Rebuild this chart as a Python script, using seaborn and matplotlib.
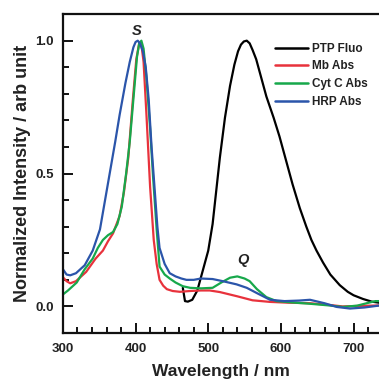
import numpy as np
import pandas as pd
import matplotlib
matplotlib.use("Agg")
import matplotlib.pyplot as plt
import seaborn as sns
from matplotlib.ticker import MultipleLocator

# ---- data ----
ptp_wl = [465, 468, 472, 478, 485, 493, 500, 506, 516, 523, 530, 536, 541, 545, 549, 553, 557, 561, 566, 573, 580, 590, 598, 607, 616, 626, 635, 642, 649, 658, 668, 681, 692, 700, 713, 725, 740]
ptp_y = [0.07, 0.02, 0.018, 0.025, 0.06, 0.14, 0.21, 0.31, 0.56, 0.71, 0.83, 0.91, 0.96, 0.985, 0.997, 1.0, 0.99, 0.965, 0.93, 0.86, 0.79, 0.71, 0.64, 0.55, 0.46, 0.37, 0.3, 0.25, 0.21, 0.165, 0.12, 0.08, 0.055, 0.042, 0.028, 0.018, 0.012]

mb_wl = [300, 305, 310, 318, 332, 345, 355, 362, 369, 378, 384, 390, 396, 401, 405, 408, 411, 415, 420, 425, 429, 433, 438, 443, 451, 461, 475, 490, 502, 516, 540, 561, 585, 610, 640, 665, 685, 710, 740]
mb_y = [0.11, 0.095, 0.087, 0.095, 0.13, 0.18, 0.21, 0.245, 0.275, 0.34, 0.43, 0.56, 0.77, 0.93, 0.99, 0.985, 0.92, 0.72, 0.45, 0.25, 0.16, 0.1, 0.078, 0.065, 0.058, 0.055, 0.058, 0.06, 0.06, 0.054, 0.038, 0.023, 0.017, 0.014, 0.012, 0.006, 0.0, 0.002, 0.004]

cyt_wl = [300, 307, 319, 330, 341, 348, 355, 362, 369, 375, 381, 387, 392, 397, 402, 405, 408, 411, 415, 420, 424, 429, 433, 440, 447, 455, 465, 475, 490, 506, 518, 530, 540, 550, 557, 567, 580, 594, 615, 640, 665, 685, 705, 718, 730, 740]
cyt_y = [0.045, 0.06, 0.09, 0.14, 0.18, 0.22, 0.25, 0.268, 0.28, 0.31, 0.375, 0.5, 0.62, 0.78, 0.94, 0.99, 1.0, 0.97, 0.86, 0.67, 0.49, 0.29, 0.15, 0.12, 0.105, 0.09, 0.076, 0.07, 0.068, 0.07, 0.09, 0.108, 0.113, 0.105, 0.095, 0.065, 0.035, 0.02, 0.015, 0.01, 0.004, -0.002, 0.003, 0.012, 0.02, 0.02]

hrp_wl = [300, 305, 310, 318, 330, 341, 351, 358, 365, 372, 378, 386, 392, 397, 400, 403, 406, 410, 414, 418, 422, 426, 430, 433, 440, 447, 455, 463, 470, 480, 490, 506, 520, 539, 553, 567, 585, 605, 625, 640, 660, 677, 695, 715, 740]
hrp_y = [0.14, 0.12, 0.117, 0.125, 0.155, 0.21, 0.29, 0.4, 0.51, 0.62, 0.72, 0.84, 0.92, 0.975, 0.995, 1.0, 0.99, 0.96, 0.9, 0.78, 0.6, 0.45, 0.3, 0.22, 0.16, 0.125, 0.113, 0.105, 0.1, 0.1, 0.105, 0.103, 0.095, 0.083, 0.07, 0.05, 0.025, 0.02, 0.022, 0.025, 0.012, -0.002, -0.008, -0.004, 0.005]

series = ["PTP Fluo", "Mb Abs", "Cyt C Abs", "HRP Abs"]
colors = ["#000000", "#e8323c", "#17a84b", "#2b55aa"]

frames = []
for name, wl, y in zip(series, [ptp_wl, mb_wl, cyt_wl, hrp_wl], [ptp_y, mb_y, cyt_y, hrp_y]):
    frames.append(pd.DataFrame({"wl": wl, "y": y, "series": name}))
df = pd.concat(frames, ignore_index=True)

sns.set_theme(style="ticks")
plt.rcParams['font.family'] = ['Liberation Sans', 'DejaVu Sans']
plt.rcParams['font.weight'] = 'bold'

fig = plt.figure(figsize=(3.79, 3.81), dpi=100)
ax = fig.add_axes([0.166, 0.126, 0.834, 0.837])

sns.lineplot(data=df, x="wl", y="y", hue="series", hue_order=series,
             palette=dict(zip(series, colors)), sort=False, estimator=None,
             linewidth=1.6, ax=ax)

ax.set_xlim(300, 735)
ax.set_ylim(-0.1, 1.1)
ax.xaxis.set_major_locator(MultipleLocator(100))
ax.xaxis.set_minor_locator(MultipleLocator(20))
ax.yaxis.set_major_locator(MultipleLocator(0.5))
ax.yaxis.set_minor_locator(MultipleLocator(0.1))
ax.tick_params(which="both", direction="in", width=1.4, colors="#111111")
ax.tick_params(which="major", length=7.5, labelsize=9.5)
ax.tick_params(axis="x", which="major", pad=7.5)
ax.tick_params(axis="y", which="major", pad=6.5)
ax.tick_params(which="minor", length=4)
for lab in ax.get_xticklabels() + ax.get_yticklabels():
    lab.set_fontweight("bold")
    lab.set_color("#222222")

for s in ["left", "top", "bottom"]:
    ax.spines[s].set_linewidth(1.6)
    ax.spines[s].set_color("#111111")
ax.spines["right"].set_visible(False)

ax.set_xlabel("Wavelength / nm", fontsize=12.5, fontweight="bold", labelpad=6, color="#222222")
ax.set_ylabel("Normalized Intensity / arb unit", fontsize=13, fontweight="bold", labelpad=3, color="#222222")

ax.text(402, 1.035, "S", fontsize=10.5, fontweight="bold", fontstyle="italic", ha="center", va="center", color="#222222")
ax.text(548, 0.174, "Q", fontsize=10.5, fontweight="bold", fontstyle="italic", ha="center", va="center", color="#222222")

leg = ax.legend(loc="upper left", bbox_to_anchor=(0.671, 0.91), frameon=False,
                borderpad=0, borderaxespad=0,
                fontsize=8.5, handlelength=2.8, handletextpad=0.35, labelspacing=0.48)
for t in leg.get_texts():
    t.set_fontweight("bold")
    t.set_color("#222222")
for l in leg.get_lines():
    l.set_linewidth(1.8)

fig.savefig("out.png", dpi=100)
